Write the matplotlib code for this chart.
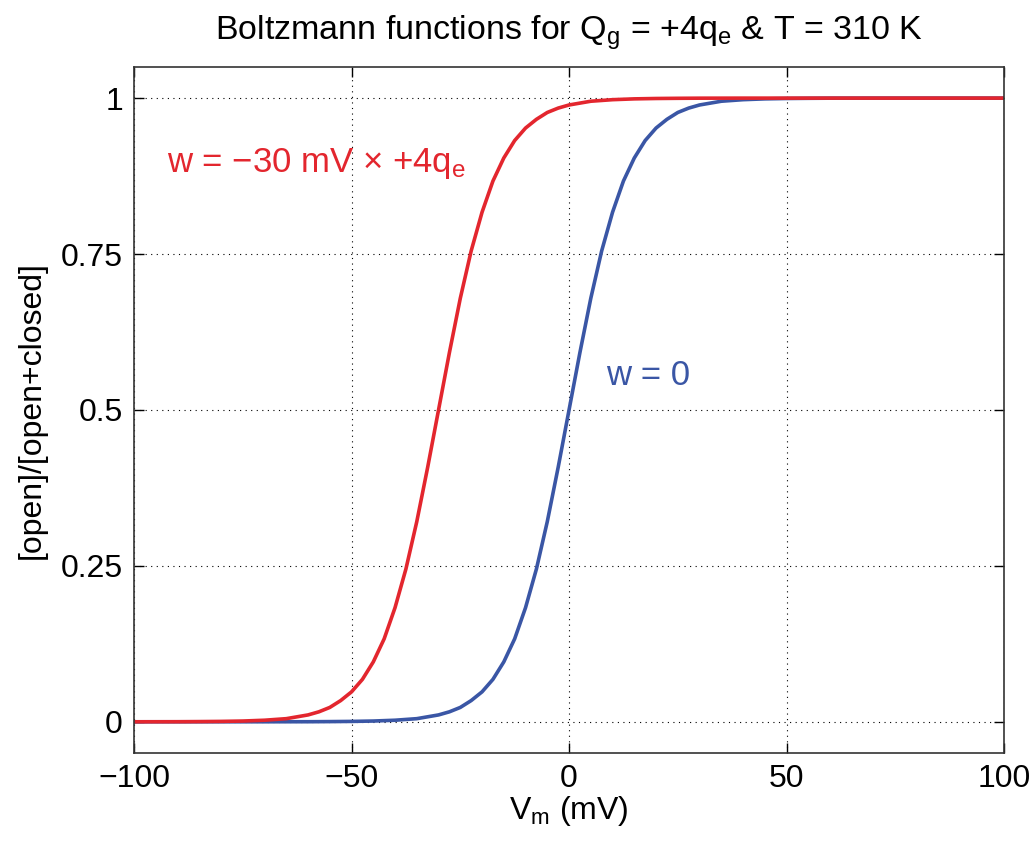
import matplotlib
matplotlib.use('Agg')
import matplotlib.pyplot as plt

plt.rcParams['font.family'] = ['Liberation Sans', 'DejaVu Sans']
plt.rcParams['mathtext.fontset'] = 'custom'
plt.rcParams['mathtext.rm'] = 'Liberation Sans'
plt.rcParams['mathtext.it'] = 'Liberation Sans'

# values: w = 0 curve (blue)
vm_blue = [-100, -90, -80, -70, -60, -55, -50, -45, -40, -35, -32.5, -30, -27.5, -25, -22.5,
           -20, -17.5, -15, -12.5, -10, -7.5, -5, -2.5, 0, 2.5, 5, 7.5, 10, 12.5, 15, 17.5,
           20, 22.5, 25, 27.5, 30, 32.5, 35, 40, 45, 50, 55, 60, 70, 80, 90, 100]
p_blue = [0, 0, 0, 0, 0.0001, 0.0003, 0.0006, 0.0012, 0.0025, 0.005, 0.008, 0.011, 0.016,
          0.023, 0.034, 0.048, 0.068, 0.096, 0.133, 0.183, 0.245, 0.321, 0.408, 0.5, 0.592,
          0.679, 0.755, 0.817, 0.867, 0.904, 0.932, 0.952, 0.966, 0.977, 0.984, 0.989, 0.992,
          0.995, 0.9975, 0.9988, 0.9994, 0.9997, 0.9999, 1, 1, 1, 1]

# w = -30 mV x +4qe curve (red)
vm_red = [-100, -90, -85, -80, -75, -70, -65, -62.5, -60, -57.5, -55, -52.5, -50, -47.5,
          -45, -42.5, -40, -37.5, -35, -32.5, -30, -27.5, -25, -22.5, -20, -17.5, -15,
          -12.5, -10, -7.5, -5, -2.5, 0, 2.5, 5, 10, 15, 20, 25, 30, 40, 50, 60, 70, 80,
          90, 100]
p_red = [0, 0.0001, 0.0003, 0.0006, 0.0012, 0.0025, 0.005, 0.008, 0.011, 0.016, 0.023,
         0.034, 0.048, 0.068, 0.096, 0.133, 0.183, 0.245, 0.321, 0.408, 0.5, 0.592, 0.679,
         0.755, 0.817, 0.867, 0.904, 0.932, 0.952, 0.966, 0.977, 0.984, 0.989, 0.992,
         0.995, 0.9975, 0.9988, 0.9994, 0.9997, 0.9999, 1, 1, 1, 1, 1, 1, 1]

xticks = [-100, -50, 0, 50, 100]
xtick_labels = ['\u2212100', '\u221250', '0', '50', '100']
yticks = [0, 0.25, 0.5, 0.75, 1]
ytick_labels = ['0', '0.25', '0.5', '0.75', '1']

red = '#e3262e'
blue = '#3a56a5'

fig = plt.figure(figsize=(10.35, 8.43), dpi=100)
ax = fig.add_axes([0.1295, 0.1068, 0.8406, 0.8138])

ax.plot(vm_blue, p_blue, color=blue, linewidth=2.6)
ax.plot(vm_red, p_red, color=red, linewidth=2.6)

ax.set_xlim(-100, 100)
ax.set_ylim(-0.05, 1.05)
ax.set_xticks(xticks)
ax.set_xticklabels(xtick_labels)
ax.set_yticks(yticks)
ax.set_yticklabels(ytick_labels)
ax.tick_params(direction='in', top=True, right=True, labelsize=23, length=7, width=1, pad=8)
ax.grid(True, linestyle=(0, (1, 4)), color='black', linewidth=0.8)
for s in ax.spines.values():
    s.set_linewidth(1.2)
    s.set_color('#333333')

ax.set_title(r'Boltzmann functions for Q$_\mathrm{g}$ = +4q$_\mathrm{e}$ & T = 310 K',
             fontsize=24.5, pad=20)
ax.set_xlabel(r'V$_\mathrm{m}$ (mV)', fontsize=23, labelpad=0)
ax.set_ylabel('[open]/[open+closed]', fontsize=23, labelpad=10)

ax.text(-92.5, 0.895, 'w = \u221230 mV \u00d7 +4q$_\\mathrm{e}$', color=red, fontsize=25,
        va='center', ha='left')
ax.text(8.5, 0.555, 'w = 0', color=blue, fontsize=25, va='center', ha='left')

fig.savefig('out.png', dpi=100)
